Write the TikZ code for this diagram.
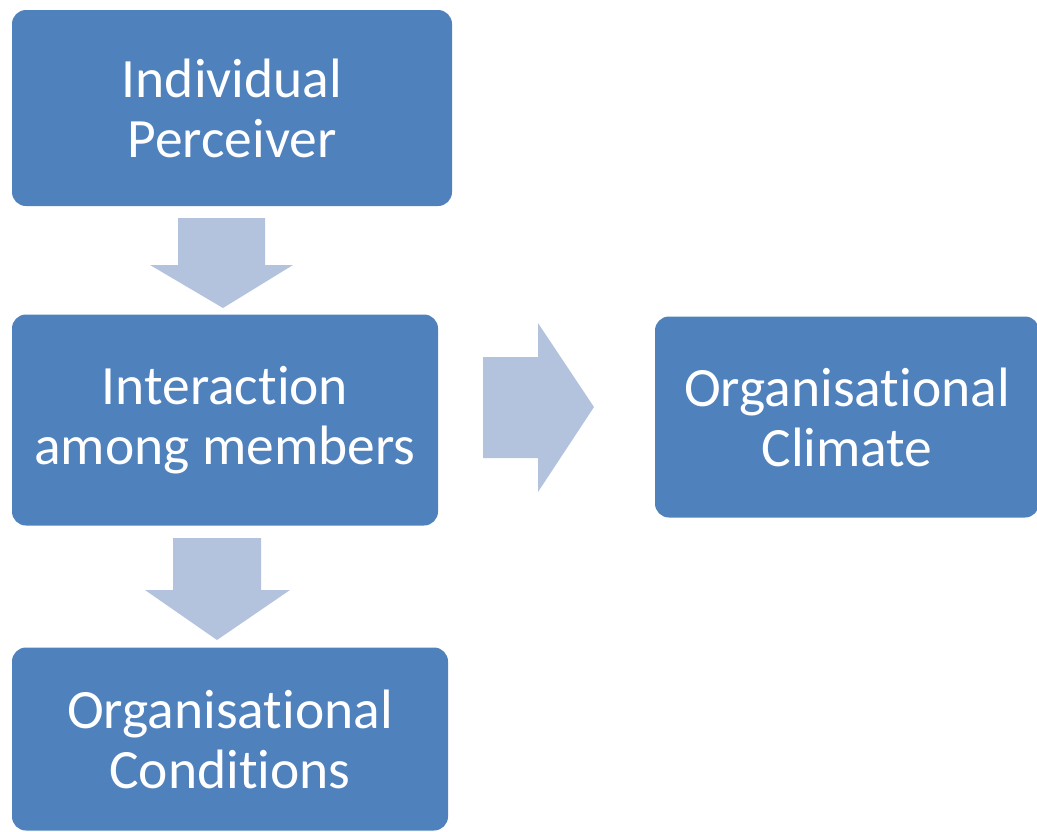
\documentclass[tikz,border=0pt]{standalone}
\usepackage{fontspec}
\setmainfont[Ligatures=NoCommon]{Carlito}
\definecolor{boxblue}{HTML}{4F81BD}
\definecolor{arrowblue}{HTML}{B3C3DE}
\begin{document}
\begin{tikzpicture}[x=1pt,y=-1pt,
  box/.style={fill=boxblue,rounded corners=14pt,text=white,align=center,inner sep=0pt,
    font=\fontsize{55.5}{60}\selectfont},
  blockarrow/.style={fill=arrowblue}]
  \useasboundingbox (0,0) rectangle (1037,831);
  \node[box,minimum width=440pt,minimum height=196pt] (perceiver) at (232,108) {Individual\\Perceiver};
  \node[box,minimum width=426pt,minimum height=211pt] (interaction) at (225,420) {Interaction\\among members};
  \node[box,minimum width=384pt,minimum height=201pt] (climate) at (847,417) {Organisational\\Climate};
  \node[box,minimum width=436pt,minimum height=183pt] (conditions) at (230,739) {Organisational\\Conditions};
  \fill[blockarrow] (178,218) -- (265,218) -- (265,265) -- (293,265) -- (223,308) -- (150,265) -- (178,265) -- cycle;
  \fill[blockarrow] (483,357) -- (538,357) -- (538,323) -- (594,407) -- (538,492) -- (538,458) -- (483,458) -- cycle;
  \fill[blockarrow] (173,538) -- (261,538) -- (261,590) -- (290,590) -- (217,640) -- (145,590) -- (173,590) -- cycle;
\end{tikzpicture}
\end{document}
